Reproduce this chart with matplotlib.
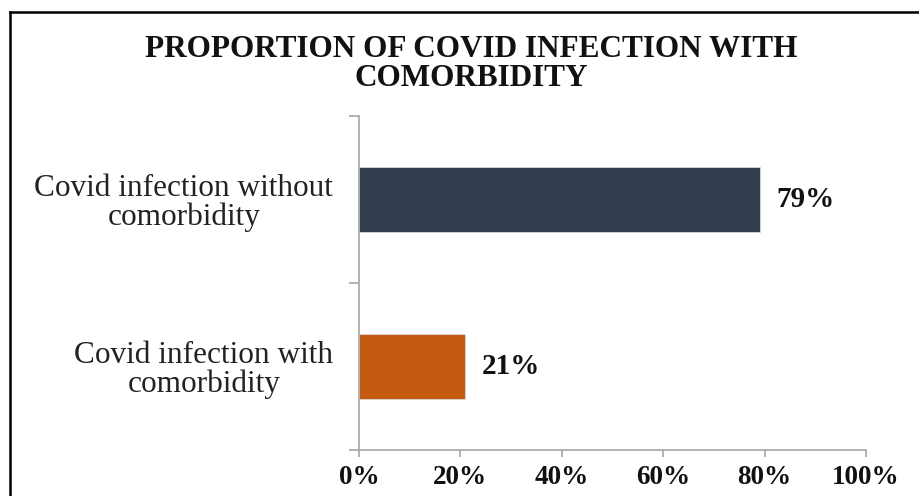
import matplotlib.pyplot as plt
from matplotlib.lines import Line2D
from matplotlib.ticker import PercentFormatter

categories = ["Covid infection with\ncomorbidity", "Covid infection without\ncomorbidity"]
values = [21, 79]
colors = ["#C55A11", "#333F50"]
xticks = [0, 20, 40, 60, 80, 100]

plt.rcParams['font.family'] = ['Liberation Serif', 'DejaVu Serif']

W, H = 919, 496
fig = plt.figure(figsize=(W / 100, H / 100), dpi=100)
ax = fig.add_axes([359 / W, 1 - 450 / H, (866 - 359) / W, (450 - 116) / H])

y = range(len(categories))
ax.barh(y, values, height=0.39, color=colors, edgecolor="#D9D9D9", linewidth=0.6)
ax.set_ylim(-0.5, 1.5)
ax.set_xlim(0, 100)

for yi, v in zip(y, values):
    ax.text(v + 3.3, yi, f"{v}%", va="center", ha="left", fontsize=21,
            fontweight="bold", color="#111111")

ax.set_xticks(xticks)
ax.xaxis.set_major_formatter(PercentFormatter(decimals=0))
ax.set_yticks([-0.5, 0.5, 1.5])
ax.set_yticklabels([])
ax.set_yticks(list(y), minor=True)
ax.set_yticklabels(categories, minor=True, fontsize=22.5, color="#222222",
                   multialignment="center", linespacing=1.0)
ax.tick_params(axis="y", which="minor", length=0, pad=18.5)
ax.tick_params(axis="y", which="major", length=7, color="#A6A6A6", width=1.2)
ax.tick_params(axis="x", length=5, color="#A6A6A6", width=1.2, pad=5.5,
               labelsize=19.5)
for lab in ax.get_xticklabels():
    lab.set_fontweight("bold")
    lab.set_color("#111111")

for s in ["top", "right"]:
    ax.spines[s].set_visible(False)
for s in ["left", "bottom"]:
    ax.spines[s].set_color("#A6A6A6")
    ax.spines[s].set_linewidth(1.2)

fig.text(471 / W, 1 - 64 / H, "PROPORTION OF COVID INFECTION WITH\nCOMORBIDITY",
         ha="center", va="center", fontsize=22.5, fontweight="bold",
         linespacing=1.0, color="#111111")

# outer frame (left and top edges visible)
fig.add_artist(Line2D([10 / W, 10 / W], [0, 1 - 12 / H], transform=fig.transFigure,
                      color="black", linewidth=1.8))
fig.add_artist(Line2D([10 / W, 1], [1 - 12 / H, 1 - 12 / H], transform=fig.transFigure,
                      color="black", linewidth=1.8))

fig.savefig("out.png", dpi=100)
